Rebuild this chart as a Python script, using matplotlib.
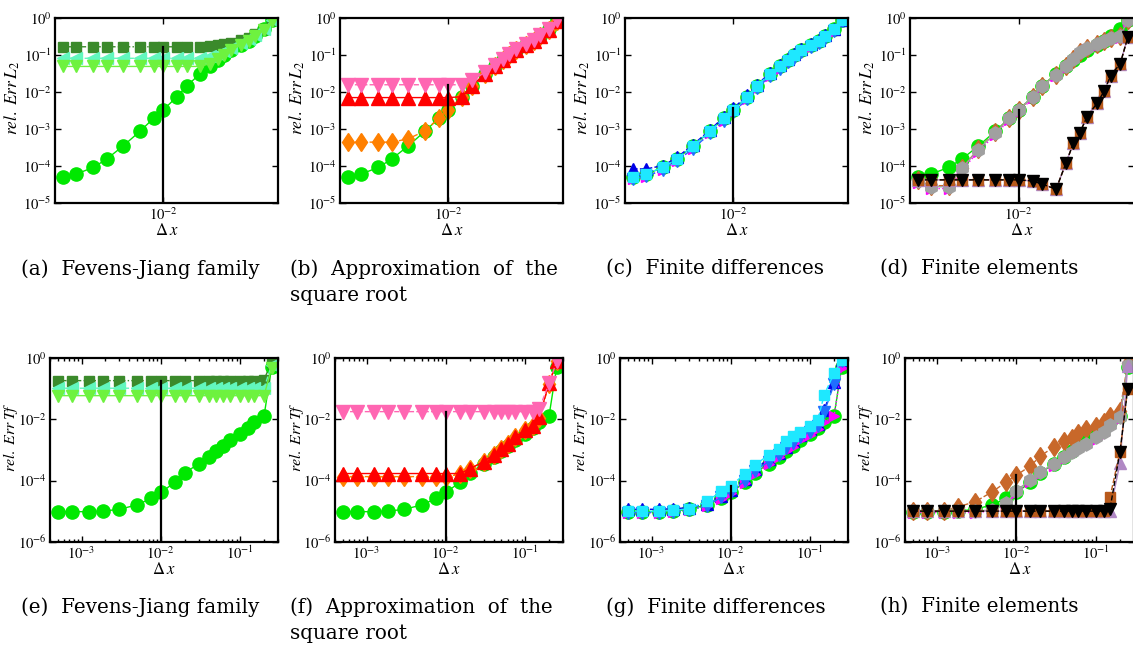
import matplotlib
matplotlib.use("Agg")
import matplotlib.pyplot as plt
from matplotlib.ticker import FixedLocator, NullFormatter, LogLocator, NullLocator

plt.rcParams['mathtext.fontset'] = 'stix'
plt.rcParams['font.family'] = 'STIXGeneral'

# grid spacings
dx = [5e-4, 7.5e-4, 1.25e-3, 1.875e-3, 3e-3, 5e-3, 7.5e-3, 1e-2, 1.5e-2, 2e-2,
      3e-2, 4e-2, 5e-2, 6e-2, 7.5e-2, 0.1, 0.125, 0.15, 0.2, 0.25]

# ---- relative L2 error ----
ref_L2 = [5.2e-5, 6.2e-5, 9.3e-5, 1.6e-4, 3.5e-4, 8.9e-4, 2.0e-3, 3.4e-3, 7.6e-3, 1.5e-2,
          3.2e-2, 5.0e-2, 7.5e-2, 0.10, 0.14, 0.19, 0.25, 0.33, 0.5, 0.9]
fj_sq_L2 = [0.17, 0.17, 0.17, 0.17, 0.17, 0.17, 0.17, 0.17, 0.17, 0.17,
            0.17, 0.175, 0.185, 0.2, 0.22, 0.26, 0.3, 0.37, 0.52, 0.9]
fj_left_L2 = [0.083, 0.083, 0.083, 0.083, 0.083, 0.083, 0.083, 0.083, 0.083, 0.083,
              0.085, 0.095, 0.11, 0.13, 0.16, 0.21, 0.27, 0.35, 0.5, 0.88]
fj_down_L2 = [0.05, 0.05, 0.05, 0.05, 0.05, 0.05, 0.05, 0.05, 0.05, 0.05,
              0.05, 0.06, 0.08, 0.105, 0.14, 0.19, 0.25, 0.33, 0.48, 0.86]
sq_red_L2 = [7.2e-3, 7.2e-3, 7.2e-3, 7.2e-3, 7.2e-3, 7.2e-3, 7.2e-3, 7.2e-3, 7.6e-3, 1.5e-2,
             3.2e-2, 5.0e-2, 7.5e-2, 0.10, 0.14, 0.19, 0.25, 0.33, 0.48, 0.85]
sq_pink_L2 = [1.6e-2, 1.6e-2, 1.6e-2, 1.6e-2, 1.6e-2, 1.6e-2, 1.6e-2, 1.6e-2, 1.6e-2, 2.1e-2,
              3.5e-2, 5.5e-2, 8.0e-2, 0.11, 0.15, 0.2, 0.26, 0.35, 0.5, 0.9]
sq_orange_L2 = [4.5e-4, 4.5e-4, 4.5e-4, 4.5e-4, 5.5e-4, 9.0e-4, 2.0e-3, 3.4e-3, 7.6e-3, 1.5e-2,
                3.2e-2, 5.0e-2, 7.5e-2, 0.10, 0.14, 0.19, 0.25, 0.33, 0.48, 0.85]
fd_blue_L2 = [8.5e-5, 8.5e-5, 1.05e-4, 1.75e-4, 3.8e-4, 9.6e-4, 2.15e-3, 3.7e-3, 8.2e-3, 1.6e-2,
              3.4e-2, 5.4e-2, 8.0e-2, 0.107, 0.15, 0.2, 0.26, 0.35, 0.52, 0.92]
fd_mag_L2 = [4.4e-5, 5.3e-5, 8.0e-5, 1.4e-4, 3.0e-4, 7.7e-4, 1.7e-3, 2.9e-3, 6.5e-3, 1.3e-2,
             2.75e-2, 4.3e-2, 6.4e-2, 0.086, 0.12, 0.163, 0.215, 0.28, 0.43, 0.8]
fd_dodger_L2 = [4.5e-5, 5.4e-5, 8.1e-5, 1.4e-4, 3.0e-4, 7.7e-4, 1.72e-3, 2.95e-3, 6.6e-3, 1.3e-2,
                2.8e-2, 4.35e-2, 6.5e-2, 0.087, 0.122, 0.165, 0.22, 0.29, 0.44, 0.82]
fd_cyan_L2 = [5.3e-5, 6.3e-5, 9.4e-5, 1.6e-4, 3.5e-4, 8.9e-4, 2.0e-3, 3.4e-3, 7.6e-3, 1.5e-2,
              3.2e-2, 5.0e-2, 7.5e-2, 0.10, 0.14, 0.19, 0.25, 0.33, 0.5, 0.92]
fe_brown_d_L2 = [4.2e-5, 3.0e-5, 3.0e-5, 9.2e-5, 2.9e-4, 8.2e-4, 2.0e-3, 3.4e-3, 7.6e-3, 1.5e-2,
                 3.0e-2, 5.0e-2, 8.0e-2, 0.12, 0.16, 0.2, 0.24, 0.29, 0.34, 0.9]
fe_mag_L2 = [3.6e-5, 2.5e-5, 2.5e-5, 8.0e-5, 2.5e-4, 7.2e-4, 1.8e-3, 3.0e-3, 6.8e-3, 1.35e-2,
             2.7e-2, 4.5e-2, 7.2e-2, 0.108, 0.144, 0.18, 0.22, 0.26, 0.3, 0.85]
fe_grey_L2 = [4.0e-5, 2.8e-5, 2.8e-5, 9.0e-5, 2.8e-4, 8.0e-4, 2.0e-3, 3.4e-3, 7.6e-3, 1.5e-2,
              3.0e-2, 5.0e-2, 8.0e-2, 0.12, 0.16, 0.2, 0.24, 0.29, 0.33, 0.9]
fe_purple_L2 = [4.3e-5, 4.3e-5, 4.3e-5, 4.3e-5, 4.3e-5, 4.3e-5, 4.3e-5, 4.3e-5, 4.0e-5, 3.3e-5,
                2.4e-5, 1.2e-4, 4.2e-4, 7.8e-4, 2.2e-3, 5.0e-3, 1.1e-2, 2.8e-2, 6.0e-2, 0.31]
fe_brown_s_L2 = [4.3e-5, 4.3e-5, 4.3e-5, 4.3e-5, 4.3e-5, 4.3e-5, 4.3e-5, 4.3e-5, 4.0e-5, 3.3e-5,
                 2.4e-5, 1.2e-4, 4.2e-4, 7.8e-4, 2.2e-3, 5.0e-3, 1.1e-2, 2.8e-2, 6.0e-2, 0.31]
fe_black_L2 = [4.3e-5, 4.3e-5, 4.3e-5, 4.3e-5, 4.3e-5, 4.3e-5, 4.3e-5, 4.3e-5, 4.0e-5, 3.3e-5,
               2.4e-5, 1.2e-4, 4.2e-4, 7.8e-4, 2.2e-3, 5.0e-3, 1.1e-2, 2.8e-2, 6.0e-2, 0.31]

# ---- relative error at final time ----
ref_Tf = [9.6e-6, 9.6e-6, 9.6e-6, 1.0e-5, 1.15e-5, 1.6e-5, 2.6e-5, 4.1e-5, 8.7e-5, 1.8e-4,
          3.5e-4, 6.0e-4, 9.5e-4, 1.35e-3, 2.2e-3, 3.3e-3, 5.1e-3, 8.5e-3, 1.3e-2, 0.53]
fj_sq_Tf = [0.186, 0.186, 0.186, 0.186, 0.186, 0.186, 0.186, 0.186, 0.186, 0.186,
            0.186, 0.186, 0.186, 0.186, 0.186, 0.186, 0.186, 0.186, 0.2, 0.78]
fj_left_Tf = [0.105, 0.105, 0.105, 0.105, 0.105, 0.105, 0.105, 0.105, 0.105, 0.105,
              0.105, 0.105, 0.105, 0.105, 0.105, 0.105, 0.105, 0.105, 0.105, 0.62]
fj_down_Tf = [0.06, 0.06, 0.06, 0.06, 0.06, 0.06, 0.06, 0.06, 0.06, 0.06,
              0.06, 0.06, 0.06, 0.06, 0.06, 0.06, 0.06, 0.06, 0.06, 0.5]
sq_red_Tf = [1.7e-4, 1.7e-4, 1.7e-4, 1.7e-4, 1.7e-4, 1.7e-4, 1.7e-4, 1.7e-4, 1.7e-4, 2.4e-4,
             4.2e-4, 7.0e-4, 1.1e-3, 1.6e-3, 2.7e-3, 4.5e-3, 6.1e-3, 1.2e-2, 0.15, 0.8]
sq_pink_Tf = [1.8e-2, 1.8e-2, 1.8e-2, 1.8e-2, 1.8e-2, 1.8e-2, 1.8e-2, 1.8e-2, 1.8e-2, 1.8e-2,
              1.8e-2, 1.8e-2, 1.8e-2, 1.8e-2, 1.8e-2, 1.8e-2, 1.8e-2, 2.2e-2, 0.15, 0.8]
sq_orange_Tf = [1.35e-4, 1.35e-4, 1.35e-4, 1.35e-4, 1.35e-4, 1.35e-4, 1.35e-4, 1.35e-4, 1.6e-4, 2.4e-4,
                4.2e-4, 7.0e-4, 1.1e-3, 1.6e-3, 2.7e-3, 4.5e-3, 6.1e-3, 1.1e-2, 0.14, 0.8]
fd_blue_Tf = [1.15e-5, 1.15e-5, 1.15e-5, 1.2e-5, 1.3e-5, 1.75e-5, 3.2e-5, 5.0e-5, 1.15e-4, 2.4e-4,
              4.9e-4, 8.1e-4, 1.3e-3, 2.0e-3, 3.0e-3, 4.7e-3, 7.1e-3, 2.0e-2, 0.17, 0.88]
fd_mag_Tf = [9.0e-6, 9.0e-6, 9.0e-6, 9.4e-6, 1.08e-5, 1.5e-5, 2.5e-5, 3.9e-5, 8.3e-5, 1.7e-4,
             3.4e-4, 5.8e-4, 9.2e-4, 1.3e-3, 2.1e-3, 3.2e-3, 4.9e-3, 8.0e-3, 1.25e-2, 0.5]
fd_dodger_Tf = [9.0e-6, 9.0e-6, 9.0e-6, 9.2e-6, 1.05e-5, 1.5e-5, 2.8e-5, 4.3e-5, 9.8e-5, 2.05e-4,
                4.2e-4, 7.0e-4, 1.12e-3, 1.7e-3, 2.6e-3, 4.0e-3, 6.0e-3, 1.7e-2, 0.14, 0.84]
fd_cyan_Tf = [1.0e-5, 1.0e-5, 1.0e-5, 1.05e-5, 1.2e-5, 2.1e-5, 4.4e-5, 6.8e-5, 1.65e-4, 3.2e-4,
              6.9e-4, 1.1e-3, 1.9e-3, 2.9e-3, 4.0e-3, 6.1e-3, 9.6e-3, 6.3e-2, 0.32, 0.88]
fe_brown_d_Tf = [1.0e-5, 1.0e-5, 1.0e-5, 1.4e-5, 2.0e-5, 4.3e-5, 9.1e-5, 1.5e-4, 3.0e-4, 6.3e-4,
                 1.3e-3, 1.9e-3, 2.4e-3, 3.5e-3, 4.7e-3, 6.0e-3, 8.4e-3, 1.3e-2, 1.9e-2, 0.68]
fe_mag_Tf = [9.0e-6, 9.0e-6, 9.0e-6, 9.0e-6, 9.0e-6, 1.0e-5, 1.6e-5, 4.0e-5, 9.0e-5, 1.6e-4,
             3.1e-4, 5.1e-4, 7.5e-4, 1.0e-3, 1.4e-3, 2.2e-3, 3.2e-3, 5.5e-3, 1.05e-2, 0.55]
fe_grey_Tf = [1.0e-5, 1.0e-5, 1.0e-5, 1.0e-5, 1.0e-5, 1.1e-5, 1.8e-5, 4.7e-5, 1.05e-4, 1.9e-4,
              3.6e-4, 6.0e-4, 8.8e-4, 1.2e-3, 1.6e-3, 2.6e-3, 3.8e-3, 6.5e-3, 1.2e-2, 0.6]
fe_purple_Tf = [1.0e-5, 1.0e-5, 1.0e-5, 1.0e-5, 1.0e-5, 1.0e-5, 1.0e-5, 1.0e-5, 1.0e-5, 1.0e-5,
                1.0e-5, 1.0e-5, 1.0e-5, 1.0e-5, 1.0e-5, 1.0e-5, 1.0e-5, 1.0e-5, 3.7e-4, 0.55]
fe_brown_s_Tf = [1.0e-5, 1.0e-5, 1.0e-5, 1.0e-5, 1.0e-5, 1.0e-5, 1.0e-5, 1.0e-5, 1.0e-5, 1.0e-5,
                 1.0e-5, 1.0e-5, 1.0e-5, 1.0e-5, 1.0e-5, 1.0e-5, 1.0e-5, 2.9e-5, 8.8e-4, 0.1]
fe_black_Tf = [1.0e-5, 1.0e-5, 1.0e-5, 1.0e-5, 1.0e-5, 1.0e-5, 1.0e-5, 1.0e-5, 1.0e-5, 1.0e-5,
               1.0e-5, 1.0e-5, 1.0e-5, 1.0e-5, 1.0e-5, 1.0e-5, 1.0e-5, 1.2e-5, 8.8e-4, 0.1]

captions = ["(a)  Fevens-Jiang family", "(b)  Approximation  of  the\nsquare root",
            "(c)  Finite differences", "(d)  Finite elements",
            "(e)  Fevens-Jiang family", "(f)  Approximation  of  the\nsquare root",
            "(g)  Finite differences", "(h)  Finite elements"]
ylabels = [r"$rel.\ Err\, L_2$", r"$rel.\ Err\, Tf$"]

# marker styles: (marker, colour, linestyle, markersize)
GREEN = ('o', '#00e800', '-', 9.5)
FJ_SQ = ('s', '#3b8a2b', '-.', 7)
FJ_LEFT = ('<', '#62f7be', '--', 9)
FJ_DOWN = ('v', '#6ef23f', '-', 9)
RED = ('^', '#ff0000', '-', 9.5)
PINK = ('v', '#ff66b2', '--', 9.5)
ORANGE = ('d', '#ff8000', '--', 9.5)
BLUE = ('^', '#0000e6', '--', 9)
MAG = ('>', '#ff00ff', ':', 6.5)
DODGER = ('v', '#1f6fff', '-.', 9)
CYAN = ('s', '#1ee8ff', '--', 7)
BROWN_D = ('d', '#c8682a', '--', 9.5)
GREY = ('h', '#a0a0a0', '-', 9.5)
PURPLE = ('^', '#b088c4', '-', 9)
BROWN_S = ('s', '#b85a1c', '--', 7)
BLACK = ('v', '#000000', '--', 9)

panels = [
    [(ref_L2, GREEN), (fj_sq_L2, FJ_SQ), (fj_left_L2, FJ_LEFT), (fj_down_L2, FJ_DOWN)],
    [(ref_L2, GREEN), (sq_orange_L2, ORANGE), (sq_red_L2, RED), (sq_pink_L2, PINK)],
    [(ref_L2, GREEN), (fd_blue_L2, BLUE), (fd_mag_L2, MAG), (fd_dodger_L2, DODGER), (fd_cyan_L2, CYAN)],
    [(ref_L2, GREEN), (fe_brown_d_L2, BROWN_D), (fe_mag_L2, MAG), (fe_grey_L2, GREY),
     (fe_purple_L2, PURPLE), (fe_brown_s_L2, BROWN_S), (fe_black_L2, BLACK)],
    [(ref_Tf, GREEN), (fj_sq_Tf, FJ_SQ), (fj_left_Tf, FJ_LEFT), (fj_down_Tf, FJ_DOWN)],
    [(ref_Tf, GREEN), (sq_orange_Tf, ORANGE), (sq_red_Tf, RED), (sq_pink_Tf, PINK)],
    [(ref_Tf, GREEN), (fd_blue_Tf, BLUE), (fd_mag_Tf, MAG), (fd_dodger_Tf, DODGER), (fd_cyan_Tf, CYAN)],
    [(ref_Tf, GREEN), (fe_brown_d_Tf, BROWN_D), (fe_mag_Tf, MAG), (fe_grey_Tf, GREY),
     (fe_purple_Tf, PURPLE), (fe_brown_s_Tf, BROWN_S), (fe_black_Tf, BLACK)],
]

W, H = 1133, 655
fig = plt.figure(figsize=(W / 100, H / 100), dpi=100)


def rect(left, right, top, bottom):
    return [left / W, 1 - bottom / H, (right - left) / W, (bottom - top) / H]


top_boxes = [(55, 278), (340, 563), (625, 848), (910, 1134)]
bot_boxes = [(50, 278), (335, 563), (620, 848), (905, 1134)]
cap_x = [21, 290, 606, 880]

for k, series in enumerate(panels):
    row = k // 4
    col = k % 4
    if row == 0:
        l, r = top_boxes[col]
        ax = fig.add_axes(rect(l, r, 18.3, 203.3))
        ylo = 1e-5
    else:
        l, r = bot_boxes[col]
        ax = fig.add_axes(rect(l, r, 358.3, 541.7))
        ylo = 1e-6
    ax.set_xscale('log')
    ax.set_yscale('log')
    for vals, (mk, c, ls, ms) in series:
        ax.plot(dx, vals, marker=mk, color=c, ls=ls, lw=1.0, ms=ms,
                mec=c, mfc=c)
    i10 = dx.index(1e-2)
    vtop = max(v[i10] for v, _ in series)
    ax.plot([1e-2, 1e-2], [ylo, vtop], color='black', lw=1.6, zorder=10)
    ax.set_xlim(4e-4, 0.3)
    ax.set_ylim(ylo, 1.0)
    if row == 0:
        ax.xaxis.set_major_locator(FixedLocator([1e-2]))
        ax.xaxis.set_minor_locator(NullLocator())
        ax.yaxis.set_major_locator(FixedLocator([1e0, 1e-1, 1e-2, 1e-3, 1e-4, 1e-5]))
    else:
        ax.xaxis.set_major_locator(FixedLocator([1e-3, 1e-2, 1e-1]))
        ax.xaxis.set_minor_locator(LogLocator(base=10, subs=range(2, 10)))
        ax.xaxis.set_minor_formatter(NullFormatter())
        ax.yaxis.set_major_locator(FixedLocator([1e0, 1e-2, 1e-4, 1e-6]))
    ax.yaxis.set_minor_locator(NullLocator())
    ax.tick_params(which='both', direction='in', top=True, right=True,
                   labelsize=10.5, width=1.0, pad=2.5)
    ax.tick_params(which='major', length=4)
    ax.tick_params(which='minor', length=2)
    for sp in ax.spines.values():
        sp.set_linewidth(1.6)
    if row == 0:
        ax.set_ylabel(ylabels[row], fontsize=12.5)
        ax.yaxis.set_label_coords(-33 / (r - l), 0.57)
    else:
        ax.set_ylabel(ylabels[row], fontsize=11.5)
        ax.yaxis.set_label_coords(-29.5 / (r - l), 0.57)
    ax.set_xlabel(r"$\Delta\, x$", fontsize=12, labelpad=0)
    ycap = 259 if row == 0 else 597
    fig.text(cap_x[col] / W, 1 - ycap / H, captions[k], fontsize=14.3,
             family='DejaVu Serif', va='top', ha='left', linespacing=1.5)

fig.savefig("out.png", dpi=100)
